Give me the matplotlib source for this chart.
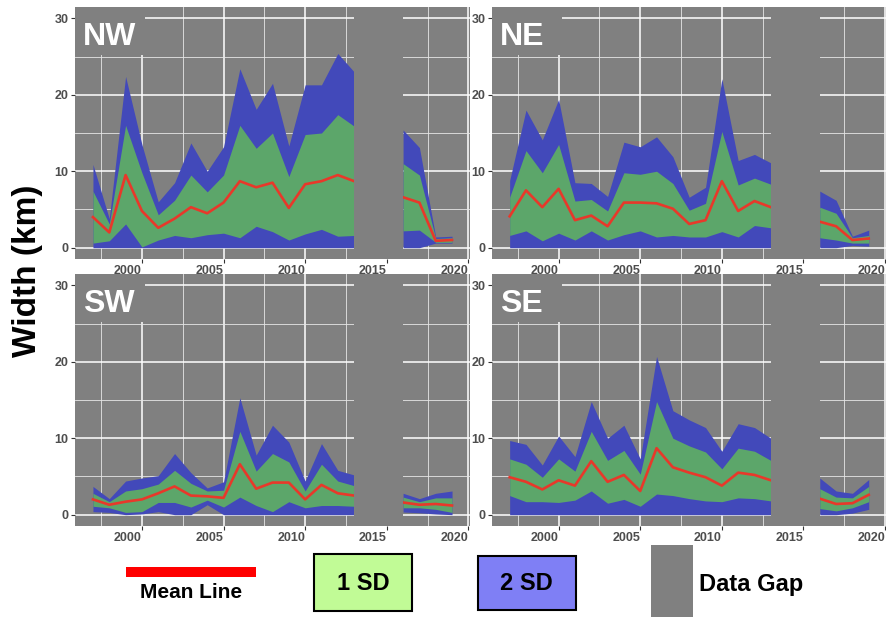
import matplotlib
matplotlib.use('Agg')
import matplotlib.pyplot as plt
from matplotlib.patches import Rectangle

plt.rcParams['font.family'] = ['Liberation Sans', 'DejaVu Sans']

# years with data; 2014-2015 missing (data gap)
years = [1997, 1998, 1999, 2000, 2001, 2002, 2003, 2004, 2005, 2006, 2007,
         2008, 2009, 2010, 2011, 2012, 2013, 2016, 2017, 2018, 2019]
gap_start, gap_end = 2013.0, 2016.0

# NW
nw_up2 = [10.9, 3.8, 22.4, 13.5, 6.0, 8.5, 13.7, 10.0, 13.2, 23.4, 18.1,
          21.5, 13.3, 21.3, 21.3, 25.4, 23.0, 15.4, 13.1, 1.4, 1.5]
nw_up1 = [7.4, 3.1, 16.0, 9.8, 4.3, 6.2, 9.5, 7.3, 9.5, 16.0, 13.0,
          15.0, 9.3, 14.8, 15.0, 17.4, 15.9, 11.0, 9.5, 1.2, 1.3]
nw_mean = [4.0, 2.0, 9.5, 4.8, 2.6, 3.8, 5.3, 4.5, 5.9, 8.7, 7.9,
           8.5, 5.2, 8.3, 8.7, 9.5, 8.7, 6.6, 5.9, 0.9, 1.0]
nw_lo1 = [0.6, 0.9, 3.1, 0.1, 1.0, 1.6, 1.3, 1.7, 1.9, 1.3, 2.8,
          2.1, 1.0, 1.8, 2.4, 1.5, 1.6, 2.2, 2.3, 0.7, 0.7]
nw_lo2 = [0.0, 0.0, 0.0, 0.0, 0.0, 0.0, 0.0, 0.0, 0.0, 0.0, 0.0,
          0.0, 0.0, 0.0, 0.0, 0.0, 0.0, 0.0, 0.0, 0.6, 0.6]

# NE
ne_up2 = [8.8, 18.0, 14.1, 19.4, 8.5, 8.4, 6.7, 13.8, 13.2, 14.5, 11.9,
          6.6, 7.9, 22.1, 11.4, 12.2, 11.1, 7.4, 6.2, 1.5, 2.3]
ne_up1 = [6.6, 12.7, 9.8, 13.5, 6.1, 6.3, 4.8, 9.8, 9.6, 10.0, 8.4,
          4.9, 5.8, 15.2, 8.2, 9.1, 8.3, 5.3, 4.5, 1.3, 1.6]
ne_mean = [4.1, 7.5, 5.3, 7.7, 3.6, 4.2, 2.8, 5.9, 5.9, 5.8, 5.1,
           3.1, 3.6, 8.7, 4.8, 6.1, 5.3, 3.4, 2.8, 1.0, 1.2]
ne_lo1 = [1.6, 2.2, 0.9, 1.9, 1.0, 2.2, 1.0, 1.7, 2.2, 1.4, 1.6,
          1.4, 1.4, 2.1, 1.4, 2.9, 2.6, 1.3, 1.0, 0.6, 0.6]
ne_lo2 = [0.0, 0.0, 0.0, 0.0, 0.0, 0.0, 0.0, 0.0, 0.0, 0.0, 0.0,
          0.0, 0.0, 0.0, 0.0, 0.0, 0.0, 0.0, 0.0, 0.3, 0.2]

# SW
sw_up2 = [3.7, 2.1, 4.4, 4.8, 5.1, 8.0, 5.5, 3.5, 4.3, 15.3, 7.8,
          11.7, 9.5, 4.4, 9.3, 5.8, 5.2, 2.8, 2.1, 2.8, 3.1]
sw_up1 = [2.8, 1.7, 3.1, 3.4, 4.0, 5.8, 4.1, 3.1, 3.2, 10.9, 5.7,
          8.0, 6.9, 3.1, 6.6, 4.4, 3.8, 2.3, 1.7, 2.2, 2.2]
sw_mean = [2.0, 1.3, 1.7, 2.0, 2.8, 3.7, 2.5, 2.4, 2.2, 6.6, 3.4,
           4.2, 4.2, 2.0, 3.9, 2.8, 2.5, 1.6, 1.3, 1.4, 1.2]
sw_lo1 = [1.1, 0.9, 0.3, 0.4, 1.6, 1.6, 1.0, 1.9, 1.0, 2.3, 1.2,
          0.4, 1.7, 0.9, 1.2, 1.2, 1.1, 0.9, 0.9, 0.7, 0.3]
sw_lo2 = [0.4, 0.3, 0.0, 0.1, 0.4, 0.0, 0.0, 1.3, 0.0, 0.0, 0.0,
          0.0, 0.0, 0.0, 0.0, 0.0, 0.0, 0.35, 0.25, 0.1, 0.0]

# SE
se_up2 = [9.7, 9.2, 6.5, 10.3, 7.6, 14.8, 10.0, 11.7, 7.3, 20.7, 13.6,
          12.4, 11.4, 8.3, 11.9, 11.4, 10.0, 4.8, 3.1, 2.8, 4.6]
se_up1 = [7.3, 6.6, 4.9, 7.3, 5.7, 10.9, 7.1, 8.4, 5.3, 14.8, 10.0,
          9.0, 8.2, 6.0, 8.7, 8.3, 7.1, 3.4, 2.3, 2.2, 3.7]
se_mean = [4.9, 4.3, 3.3, 4.5, 3.8, 7.0, 4.3, 5.2, 3.1, 8.7, 6.2,
           5.5, 4.9, 3.8, 5.5, 5.2, 4.5, 2.1, 1.4, 1.5, 2.6]
se_lo1 = [2.5, 1.7, 1.7, 1.6, 1.9, 3.1, 1.5, 2.0, 1.1, 2.7, 2.5,
          2.1, 1.8, 1.7, 2.2, 2.1, 1.8, 0.8, 0.5, 0.9, 1.7]
se_lo2 = [0.0, 0.0, 0.0, 0.0, 0.0, 0.0, 0.0, 0.0, 0.0, 0.0, 0.0,
          0.0, 0.0, 0.0, 0.0, 0.0, 0.0, 0.0, 0.0, 0.2, 0.7]

regions = {
    'NW': (nw_lo2, nw_lo1, nw_mean, nw_up1, nw_up2),
    'NE': (ne_lo2, ne_lo1, ne_mean, ne_up1, ne_up2),
    'SW': (sw_lo2, sw_lo1, sw_mean, sw_up1, sw_up2),
    'SE': (se_lo2, se_lo1, se_mean, se_up1, se_up2),
}

x_major = [2000, 2005, 2010, 2015, 2020]
x_minor = [1997.5, 2002.5, 2007.5, 2012.5, 2017.5]
y_major = [0, 10, 20, 30]
y_minor = [5, 15, 25]

BG = '#808080'
BLUE = '#4249ba'
GREEN = '#5ca66a'
RED = '#e8382a'

W, H = 887, 617
fig = plt.figure(figsize=(W / 100, H / 100), dpi=100)
fig.patch.set_facecolor('white')

# panel boxes in pixels: left, top
panel_px = {'NW': (75, 7.3), 'NE': (491.7, 7.3), 'SW': (75, 274.3), 'SE': (491.7, 274.3)}
pw, ph = 395, 251.4

# split index between the two runs of data
split = years.index(2016)

for name, (lo2, lo1, mean, up1, up2) in regions.items():
    left, top = panel_px[name]
    ax = fig.add_axes([left / W, 1 - (top + ph) / H, pw / W, ph / H])
    ax.set_facecolor(BG)
    for s in ax.spines.values():
        s.set_visible(False)
    ax.set_xlim(1995.9, 2020.1)
    ax.set_ylim(-1.44, 31.44)

    ax.set_xticks(x_minor, minor=True)
    ax.set_yticks(y_minor, minor=True)
    ax.set_xticks(x_major, [str(v) for v in x_major], ha='right')
    ax.set_yticks(y_major, [str(v) for v in y_major])
    ax.grid(which='major', color='white', lw=1.1, zorder=0)
    ax.grid(which='minor', color='#e6e6e6', lw=0.6, zorder=0)
    ax.set_axisbelow(True)
    ax.tick_params(which='major', length=3, width=0.8, color='#333333',
                   labelcolor='#4d4d4d', labelsize=9, pad=1.5)
    ax.tick_params(which='minor', length=0)
    for lab in ax.get_xticklabels() + ax.get_yticklabels():
        lab.set_fontweight('bold')

    for sl in (slice(0, split), slice(split, None)):
        ax.fill_between(years[sl], lo2[sl], up2[sl], color=BLUE, lw=0, zorder=1)
        ax.fill_between(years[sl], lo1[sl], up1[sl], color=GREEN, lw=0, zorder=2)
        ax.plot(years[sl], mean[sl], color=RED, lw=1.9, zorder=3)

    # data gap
    ax.add_patch(Rectangle((gap_start, 0), gap_end - gap_start, 1.0,
                           transform=ax.get_xaxis_transform(),
                           fc=BG, ec='none', zorder=4, clip_on=False))
    # region label on its own box
    ax.add_patch(Rectangle((0, 1 - 0.19), 0.177, 0.19, transform=ax.transAxes,
                           fc=BG, ec='none', zorder=4))
    ax.text(0.02, 0.85, name, transform=ax.transAxes, color='white',
            fontsize=23, fontweight='bold', ha='left', va='baseline', zorder=5)

fig.text(27.5 / W, 1 - 271 / H, 'Width (km)', rotation=90, fontsize=24,
         fontweight='bold', ha='center', va='center')

# legend strip, drawn in pixel coordinates
lg = fig.add_axes([0, 0, 1, 80 / H])
lg.set_xlim(0, W)
lg.set_ylim(H, H - 80)
lg.axis('off')
lg.add_patch(Rectangle((126, 567.3), 130.5, 10, fc='#ff0000', ec='none'))
lg.text(191, 593, 'Mean Line', fontsize=15, fontweight='bold', ha='center', va='center')
lg.add_patch(Rectangle((314, 554.3), 98.5, 56.7, fc='#c1fb96', ec='black', lw=1.5))
lg.text(363.5, 584, '1 SD', fontsize=17, fontweight='bold', ha='center', va='center')
lg.add_patch(Rectangle((478.5, 555.7), 98, 54.6, fc='#7f7ff5', ec='black', lw=1.5))
lg.text(526, 584, '2 SD', fontsize=17, fontweight='bold', ha='center', va='center')
lg.add_patch(Rectangle((651.5, 545), 42, 75, fc=BG, ec='none'))
lg.text(699, 584, 'Data Gap', fontsize=17, fontweight='bold', ha='left', va='center')

fig.savefig('out.png', dpi=100, facecolor='white')
